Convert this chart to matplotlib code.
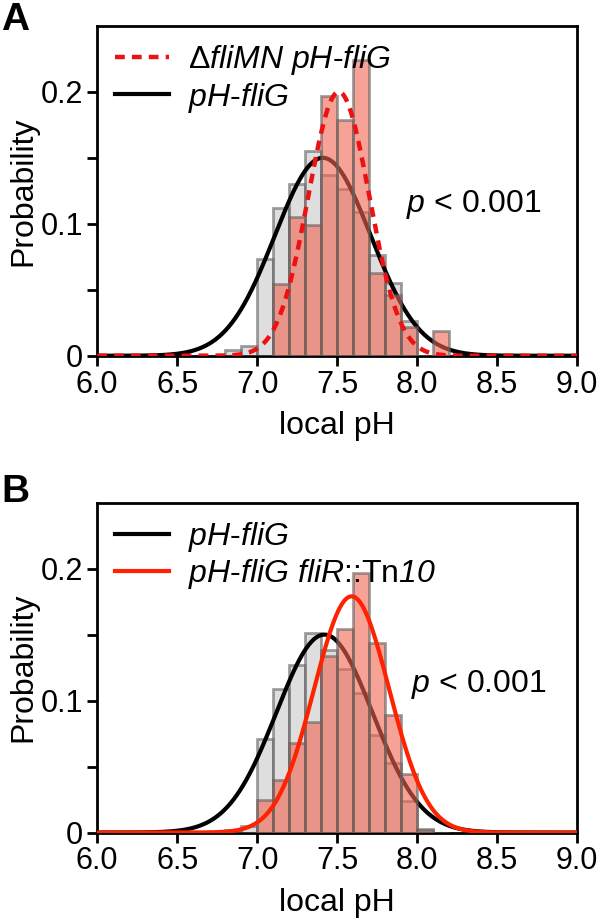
import matplotlib
matplotlib.use("Agg")
import matplotlib.pyplot as plt
import numpy as np

plt.rcParams.update({
    "font.family": "Liberation Sans",
    "font.size": 23,
    "xtick.labelsize": 22,
    "ytick.labelsize": 22,
    "mathtext.fontset": "custom",
    "mathtext.rm": "Liberation Sans",
    "mathtext.it": "Liberation Sans:italic",
    "mathtext.sf": "Liberation Sans:italic",  # used for italic digits
    "axes.linewidth": 2.0,
    "xtick.major.width": 2.0,
    "ytick.major.width": 2.0,
    "ytick.minor.width": 2.0,
    "xtick.major.size": 7,
    "ytick.major.size": 7,
    "ytick.minor.size": 7,
})

# histogram bins (local pH), width 0.1
bin_edges = [6.8, 6.9, 7.0, 7.1, 7.2, 7.3, 7.4, 7.5, 7.6, 7.7, 7.8, 7.9, 8.0, 8.1, 8.2]

# panel A
a_wt = [0.004, 0.0075, 0.073, 0.112, 0.130, 0.155, 0.137, 0.126, 0.109, 0.076, 0.055, 0.026, 0.0, 0.0]
a_mut = [0.0, 0.0, 0.0, 0.054, 0.105, 0.099, 0.197, 0.179, 0.224, 0.0625, 0.046, 0.022, 0.0, 0.0186]
# gaussian fits: amplitude, mean, sigma
a_wt_fit = (0.150, 7.41, 0.30)
a_mut_fit = (0.200, 7.51, 0.19)

# panel B
b_wt = [0.002, 0.005, 0.071, 0.109, 0.127, 0.151, 0.138, 0.124, 0.106, 0.074, 0.053, 0.024, 0.003, 0.0]
b_mut = [0.0, 0.0, 0.025, 0.040, 0.068, 0.084, 0.134, 0.154, 0.197, 0.144, 0.089, 0.044, 0.002, 0.0]
b_wt_fit = (0.150, 7.42, 0.30)
b_mut_fit = (0.179, 7.59, 0.235)

x_ticks = [6.0, 6.5, 7.0, 7.5, 8.0, 8.5, 9.0]

GRAY_FILL = "#c8c8c8"
RED_FILL = "#f06450"
EDGE = "#606060"


def gauss(x, amp, mu, sig):
    return amp * np.exp(-0.5 * ((x - mu) / sig) ** 2)


def draw_panel(ax, wt, mut, wt_fit, mut_fit, mut_style, labels, order):
    left = np.array(bin_edges[:-1])
    width = np.diff(bin_edges)
    ax.bar(left, wt, width=width, align="edge", color=GRAY_FILL, alpha=0.6,
           edgecolor=EDGE, linewidth=2.0, zorder=1)
    x = np.linspace(6.0, 9.0, 600)
    h_wt, = ax.plot(x, gauss(x, *wt_fit), color="black", lw=3.0, zorder=2)
    ax.bar(left, mut, width=width, align="edge", color=RED_FILL, alpha=0.6,
           edgecolor=EDGE, linewidth=2.0, zorder=3)
    if mut_style == "dashed":
        h_mut, = ax.plot(x, gauss(x, *mut_fit), color="#ee1111", lw=3.2,
                         ls=(0, (2.2, 1.6)), zorder=4)
    else:
        h_mut, = ax.plot(x, gauss(x, *mut_fit), color="#ff2200", lw=3.0, zorder=4)
    handles = {"wt": h_wt, "mut": h_mut}
    ax.legend([handles[k] for k in order], labels, loc="upper left",
              frameon=False, handlelength=1.7, handletextpad=0.6,
              borderaxespad=0.15, labelspacing=0.1, fontsize=23)

    ax.set_xlim(6.0, 9.0)
    ax.set_ylim(0, 0.25)
    ax.set_xticks(x_ticks)
    ax.set_xticklabels([f"{t:.1f}" for t in x_ticks])
    ax.set_yticks([0, 0.1, 0.2])
    ax.set_yticklabels(["0", "0.1", "0.2"])
    ax.set_yticks([0.05, 0.15], minor=True)
    ax.tick_params(which="both", direction="out", pad=3)
    ax.set_xlabel("local pH", labelpad=8)
    ax.set_ylabel("Probability", labelpad=2)


fig = plt.figure(figsize=(6.0, 9.24), dpi=100)
ax_a = fig.add_axes([0.162, 0.615, 0.800, 0.357])
ax_b = fig.add_axes([0.162, 0.099, 0.800, 0.357])

draw_panel(ax_a, a_wt, a_mut, a_wt_fit, a_mut_fit, "dashed",
           [r"Δ$\mathit{fliMN}$ $\mathit{pH}$-$\mathit{fliG}$", r"$\mathit{pH}$-$\mathit{fliG}$"],
           ["mut", "wt"])
draw_panel(ax_b, b_wt, b_mut, b_wt_fit, b_mut_fit, "solid",
           [r"$\mathit{pH}$-$\mathit{fliG}$",
            r"$\mathit{pH}$-$\mathit{fliG}$ $\mathit{fliR}$::Tn$\mathsf{10}$"],
           ["wt", "mut"])

ax_a.text(7.93, 0.115, r"$\mathit{p}$ < 0.001", fontsize=23, va="center", ha="left")
ax_b.text(7.96, 0.112, r"$\mathit{p}$ < 0.001", fontsize=23, va="center", ha="left")

fig.text(0.002, 0.998, "A", fontsize=28, fontweight="bold", va="top", ha="left")
fig.text(0.002, 0.487, "B", fontsize=28, fontweight="bold", va="top", ha="left")

fig.savefig("out.png", dpi=100)
